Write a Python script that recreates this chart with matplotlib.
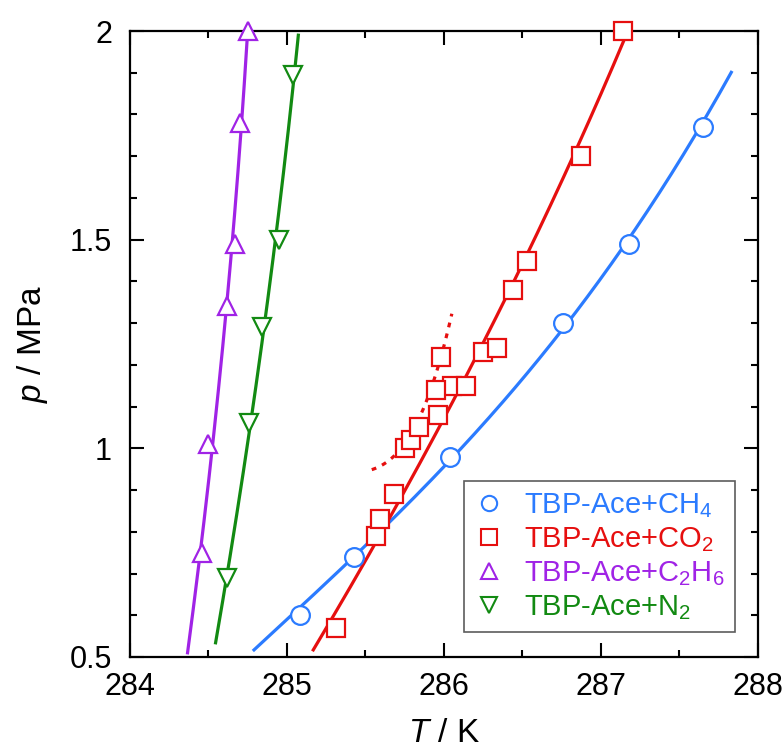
import numpy as np
import matplotlib
matplotlib.use("Agg")
import matplotlib.pyplot as plt
from matplotlib.ticker import MultipleLocator, FixedLocator, FixedFormatter

plt.rcParams['font.family'] = ['Liberation Sans', 'DejaVu Sans']
plt.rcParams['mathtext.fontset'] = 'custom'
plt.rcParams['mathtext.rm'] = 'Liberation Sans'
plt.rcParams['mathtext.it'] = 'Liberation Sans:italic'

# measured equilibrium points (T / K, p / MPa)
ch4_T = [285.08, 285.43, 286.04, 286.76, 287.18, 287.65]
ch4_p = [0.60, 0.74, 0.98, 1.30, 1.49, 1.77]

co2_T = [285.31, 285.57, 285.59, 285.68, 285.75, 285.79, 285.84, 285.96,
         286.05, 286.14, 286.25, 286.34, 286.44, 286.53, 286.87, 287.14,
         285.95, 285.98]
co2_p = [0.57, 0.79, 0.83, 0.89, 1.00, 1.02, 1.05, 1.08,
         1.15, 1.15, 1.23, 1.24, 1.38, 1.45, 1.70, 2.00,
         1.14, 1.22]

c2h6_T = [284.46, 284.50, 284.62, 284.67, 284.70, 284.75]
c2h6_p = [0.75, 1.01, 1.34, 1.49, 1.78, 2.00]

n2_T = [284.62, 284.76, 284.84, 284.95, 285.04]
n2_p = [0.69, 1.06, 1.29, 1.50, 1.895]

# guide curves
ch4_line_T = [284.79, 285.08, 285.43, 286.04, 286.76, 287.18, 287.65, 287.83]
ch4_line_p = [0.529, 0.60, 0.74, 0.98, 1.30, 1.49, 1.77, 1.914]
co2_line_T = [285.19, 285.57, 286.0, 286.53, 286.87, 287.14]
co2_line_p = [0.517, 0.79, 1.10, 1.45, 1.70, 2.0]
c2h6_line_p = (0.51, 2.0)
n2_line_p = (0.534, 1.99)
co2_dot_T = [285.54, 285.68, 285.86, 285.96, 286.05]
co2_dot_p = [0.948, 0.984, 1.08, 1.20, 1.32]

blue = '#2b7bff'
red = '#e60f0f'
purple = '#a023e6'
green = '#128a12'

fig = plt.figure(figsize=(7.84, 7.51), dpi=100)
ax = fig.add_axes([0.1658, 0.1252, 0.8010, 0.8335])

lw = 2.3


def fit_T_of_p(T, p, prange, color):
    coef = np.polyfit(p, T, 2)
    pp = np.linspace(prange[0], prange[1], 200)
    ax.plot(np.polyval(coef, pp), pp, color=color, lw=lw, zorder=2)


# CH4: p as a function of T
coef = np.polyfit(ch4_line_T, ch4_line_p, 3)
tt = np.linspace(ch4_line_T[0], ch4_line_T[-1], 200)
ax.plot(tt, np.polyval(coef, tt), color=blue, lw=lw, zorder=2)

fit_T_of_p(co2_line_T, co2_line_p, (co2_line_p[0], co2_line_p[-1]), red)
fit_T_of_p(c2h6_T, c2h6_p, c2h6_line_p, purple)
fit_T_of_p(n2_T, n2_p, n2_line_p, green)

coef = np.polyfit(co2_dot_T, co2_dot_p, 3)
tt = np.linspace(co2_dot_T[0], co2_dot_T[-1], 100)
ax.plot(tt, np.polyval(coef, tt), color=red, lw=lw, ls=(0, (1.5, 2.0)), zorder=2)

mk = dict(ls='none', markersize=13.5, mew=1.6, markerfacecolor='white', zorder=3, clip_on=False)
ax.plot(ch4_T, ch4_p, marker='o', color=blue, **mk)
ax.plot(co2_T, co2_p, marker='s', color=red, **mk)
ax.plot(c2h6_T, c2h6_p, marker='^', color=purple, **mk)
ax.plot(n2_T, n2_p, marker='v', color=green, **mk)

# legend handles (markers only)
lk = dict(ls='none', markersize=11, mew=1.5, markerfacecolor='white')
h1, = ax.plot([], [], marker='o', color=blue, **lk)
h2, = ax.plot([], [], marker='s', color=red, **lk)
h3, = ax.plot([], [], marker='^', color=purple, **lk)
h4, = ax.plot([], [], marker='v', color=green, **lk)
labels = ['TBP-Ace+CH$_4$', 'TBP-Ace+CO$_2$', 'TBP-Ace+C$_2$H$_6$', 'TBP-Ace+N$_2$']
leg = ax.legend([h1, h2, h3, h4], labels, loc='lower right',
                bbox_to_anchor=(0.963, 0.04), fontsize=21, frameon=True,
                fancybox=False, edgecolor='#333333', handlelength=1.0,
                handletextpad=0.7, labelspacing=0.18, borderpad=0.35,
                borderaxespad=0)
leg.get_frame().set_linewidth(1.2)
for txt, c in zip(leg.get_texts(), [blue, red, purple, green]):
    txt.set_color(c)

ax.set_xlim(284, 288)
ax.set_ylim(0.5, 2)
ax.xaxis.set_major_locator(MultipleLocator(1))
ax.xaxis.set_minor_locator(MultipleLocator(0.5))
ax.yaxis.set_major_locator(FixedLocator([0.5, 1.0, 1.5, 2.0]))
ax.yaxis.set_major_formatter(FixedFormatter(['0.5', '1', '1.5', '2']))
ax.yaxis.set_minor_locator(MultipleLocator(0.1))
ax.tick_params(which='both', direction='in', top=True, right=True, width=1.5)
ax.tick_params(which='major', length=10, labelsize=22)
ax.tick_params(axis='x', which='major', pad=11)
ax.tick_params(axis='y', which='major', pad=13)
ax.tick_params(which='minor', length=5)
for s in ax.spines.values():
    s.set_linewidth(1.6)

ax.set_xlabel('$T$ / K', fontsize=24, labelpad=11)
ax.set_ylabel('$p$ / MPa', fontsize=24, labelpad=14)

fig.savefig('out.png', dpi=100)
